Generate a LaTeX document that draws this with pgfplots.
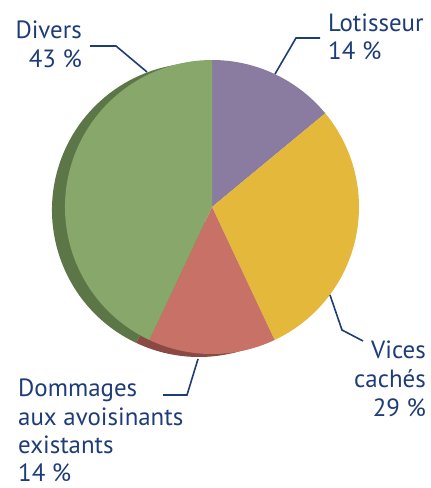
\documentclass[border=0pt]{standalone}
\usepackage{pgfplots}
\usepackage{pgfplotstable}
\pgfplotsset{compat=1.18}
\usepackage{fontspec}
\setmainfont{PT Sans}

\definecolor{txt}{HTML}{1E3C78}
\definecolor{clot}{HTML}{8A7BA0}
\definecolor{cvic}{HTML}{E4B93B}
\definecolor{cdom}{HTML}{C87167}
\definecolor{cdiv}{HTML}{87A86A}
\definecolor{sdom}{HTML}{8A4A43}
\definecolor{sdiv}{HTML}{5C7648}

% pie shares, clockwise from the top
\pgfplotstableread{
label value
Lotisseur 14
Vices 29
Dommages 14
Divers 43
}\piedata

\pgfplotstablegetelem{0}{value}\of\piedata \let\vA\pgfplotsretval
\pgfplotstablegetelem{1}{value}\of\piedata \let\vB\pgfplotsretval
\pgfplotstablegetelem{2}{value}\of\piedata \let\vC\pgfplotsretval
\pgfplotstablegetelem{3}{value}\of\piedata \let\vD\pgfplotsretval
\pgfmathsetmacro\aA{90}
\pgfmathsetmacro\aB{\aA-3.6*\vA}
\pgfmathsetmacro\aC{\aB-3.6*\vB}
\pgfmathsetmacro\aD{\aC-3.6*\vC}
\pgfmathsetmacro\aE{\aD-3.6*\vD}

\newcommand\slice[5]{% colour, cx, cy, start, end
  \fill[#1] (axis cs:#2,#3) -- ([shift={(#4:147bp)}]axis cs:#2,#3)
    arc[start angle=#4, end angle=#5, radius=147bp] -- cycle;}

\begin{document}
\begin{tikzpicture}
\begin{axis}[
  scale only axis,
  width=431bp, height=488bp,
  xmin=0, xmax=431, ymin=0, ymax=488,
  hide axis, clip=false,
]
\path (axis cs:0,0) rectangle (axis cs:431,488);
% side of the disc
\slice{sdiv}{199}{278}{\aD}{\aE}
\slice{sdom}{199}{278}{\aC}{\aD}
% top face
\slice{clot}{212}{281}{\aA}{\aB}
\slice{cvic}{212}{281}{\aB}{\aC}
\slice{cdom}{212}{281}{\aC}{\aD}
\slice{cdiv}{212}{281}{\aD}{\aE}

% leader lines
\draw[txt, line width=1.6bp] (axis cs:147,416) -- (axis cs:116,442) -- (axis cs:90,442);
\draw[txt, line width=1.6bp] (axis cs:275,414) -- (axis cs:296,450) -- (axis cs:320,450);
\draw[txt, line width=1.6bp] (axis cs:330,193) -- (axis cs:342,158) -- (axis cs:363,147);
\draw[txt, line width=1.6bp] (axis cs:198,129) -- (axis cs:187,93) -- (axis cs:163,93);

% labels
\begin{scope}[every node/.style={text=txt, font=\fontsize{25}{28.5}\selectfont, inner sep=0pt}]
\node[anchor=base east] at (axis cs:82,449) {Divers};
\node[anchor=base east] at (axis cs:82,420) {43 \%};
\node[anchor=base west] at (axis cs:328,456) {Lotisseur};
\node[anchor=base west] at (axis cs:328,428) {14 \%};
\node[anchor=base east] at (axis cs:426,129) {Vices};
\node[anchor=base east] at (axis cs:426,100) {cachés};
\node[anchor=base east] at (axis cs:426,71) {29 \%};
\node[anchor=base west] at (axis cs:18,91) {Dommages};
\node[anchor=base west] at (axis cs:18,62) {aux avoisinants};
\node[anchor=base west] at (axis cs:18,34) {existants};
\node[anchor=base west] at (axis cs:18,7) {14 \%};
\end{scope}
\end{axis}
\end{tikzpicture}
\end{document}
